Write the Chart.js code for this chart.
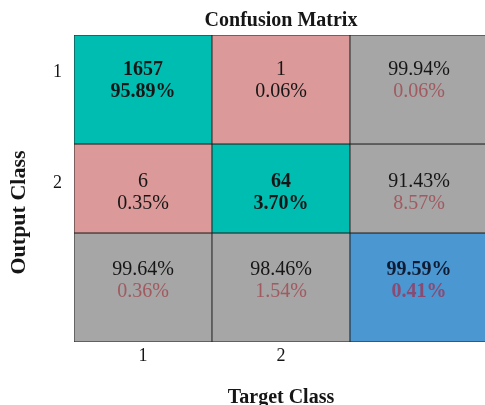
<!DOCTYPE html>
<html>
<head>
<meta charset="utf-8">
<script src="https://cdn.jsdelivr.net/npm/chart.js@4.4.1/dist/chart.umd.min.js"></script>
<style>
  html, body { margin: 0; padding: 0; background: #ffffff; overflow: hidden; }
  #wrap { width: 488px; height: 405px; position: relative; }
</style>
</head>
<body>
<div id="wrap"><canvas id="c"></canvas></div>
<script>
// ---- data ----
const targetLabels = ['1', '2', ''];          // x categories (target class, last = summary)
const outputLabels = ['1', '2'];              // y tick labels (output class)
const counts = [[1657, 1], [6, 64]];          // rows = output class, cols = target class
const cellPercent = [[95.89, 0.06], [0.35, 3.70]];
const rowCorrect = [99.94, 91.43];            // right column (precision)
const rowWrong = [0.06, 8.57];
const colCorrect = [99.64, 98.46];            // bottom row (recall)
const colWrong = [0.36, 1.54];
const overallCorrect = 99.59;
const overallWrong = 0.41;

// row bands on the y value axis (three output rows incl. summary) and label marks
const rowEdges = [0, 1.065, 1.935, 3];
const rowMarks = [0.36, 1.45, 2.31];

// ---- styling ----
const TEAL = '#00bdb2', PINK = '#db9a99', GRAY = '#a6a6a6', BLUE = '#4a97d1';
const DARK = '#161616', RED = '#a05a60';
const SERIF = '"Liberation Serif", "Times New Roman", serif';
const pct = v => v.toFixed(2) + '%';

// build cell descriptions
const cells = [];
for (let r = 0; r < 3; r++) {
  for (let c = 0; c < 3; c++) {
    let bg, l1, l2, bold = false, c1 = DARK, c2 = DARK;
    if (r < 2 && c < 2) {
      bg = r === c ? TEAL : PINK;
      bold = r === c;
      l1 = String(counts[r][c]);
      l2 = pct(cellPercent[r][c]);
    } else if (r < 2 && c === 2) {
      bg = GRAY; l1 = pct(rowCorrect[r]); l2 = pct(rowWrong[r]); c2 = RED;
    } else if (r === 2 && c < 2) {
      bg = GRAY; l1 = pct(colCorrect[c]); l2 = pct(colWrong[c]); c2 = RED;
    } else {
      bg = BLUE; l1 = pct(overallCorrect); l2 = pct(overallWrong); bold = true;
      c1 = '#101c34'; c2 = '#8a4a72';
    }
    cells.push({ r, c, bg, l1, l2, bold, c1, c2 });
  }
}

const datasets = [0, 1, 2].map(r => ({
  label: 'row' + r,
  data: [0, 1, 2].map(c => [rowEdges[r], rowEdges[r + 1]]),
  backgroundColor: [0, 1, 2].map(c => cells[r * 3 + c].bg),
  borderColor: '#1c1c1c',
  borderWidth: 0.8,
  borderSkipped: false,
  grouped: false,
  barPercentage: 1,
  categoryPercentage: 1
}));

const cellText = {
  id: 'cellText',
  afterDatasetsDraw(chart) {
    const ctx = chart.ctx, xs = chart.scales.x, ys = chart.scales.y;
    ctx.save();
    ctx.textAlign = 'center';
    ctx.textBaseline = 'middle';
    cells.forEach(cell => {
      const x = xs.getPixelForValue(cell.c);
      const y = ys.getPixelForValue(rowMarks[cell.r]);
      ctx.font = (cell.bold ? 'bold ' : '') + '20px ' + SERIF;
      ctx.fillStyle = cell.c1;
      ctx.fillText(cell.l1, x, y - 2);
      ctx.fillStyle = cell.c2;
      ctx.fillText(cell.l2, x, y + 20);
    });
    // y axis title
    const ca = chart.chartArea;
    ctx.translate(19, (ca.top + ca.bottom) / 2 + 24);
    ctx.rotate(-Math.PI / 2);
    ctx.font = 'bold 22px ' + SERIF;
    ctx.fillStyle = DARK;
    ctx.fillText('Output Class', 0, 0);
    ctx.restore();
  }
};

new Chart(document.getElementById('c'), {
  type: 'bar',
  data: { labels: targetLabels, datasets },
  plugins: [cellText],
  options: {
    responsive: true,
    maintainAspectRatio: false,
    animation: false,
    layout: { padding: 0 },
    plugins: {
      legend: { display: false },
      tooltip: { enabled: false },
      title: {
        display: true,
        text: 'Confusion Matrix',
        fullSize: false,
        color: DARK,
        font: { family: SERIF, size: 20, weight: 'bold', lineHeight: 1.2 },
        padding: { top: 9, bottom: 2 }
      }
    },
    scales: {
      x: {
        type: 'category',
        offset: true,
        grid: { display: false, drawTicks: false },
        border: { display: false },
        ticks: { color: DARK, padding: 3, font: { family: SERIF, size: 18 } },
        title: {
          display: true, text: 'Target Class', color: DARK,
          font: { family: SERIF, size: 20, weight: 'bold', lineHeight: 0.75 },
          padding: { top: 0, bottom: 0 }
        },
        afterFit(scale) { scale.height = 63; }
      },
      y: {
        type: 'linear',
        reverse: true,
        min: 0,
        max: 3,
        grid: { display: false, drawTicks: false },
        border: { display: false },
        afterBuildTicks(scale) {
          scale.ticks = outputLabels.map((l, i) => ({ value: rowMarks[i] }));
        },
        ticks: {
          color: DARK, padding: 12, autoSkip: false,
          font: { family: SERIF, size: 18 },
          callback: (v, i) => outputLabels[i]
        },
        afterFit(scale) { scale.width = 74; }
      }
    }
  }
});
</script>
</body>
</html>
